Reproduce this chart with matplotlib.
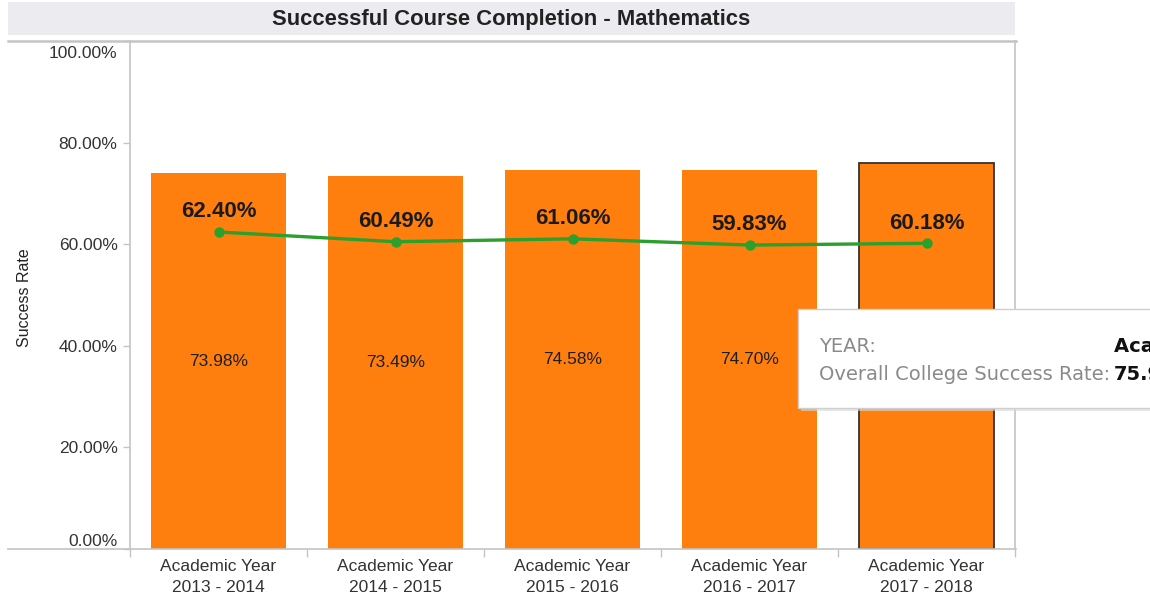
import matplotlib
matplotlib.use("Agg")
import matplotlib.pyplot as plt
from matplotlib.patches import Rectangle
from matplotlib.lines import Line2D
from matplotlib.transforms import ScaledTranslation
import numpy as np

# ---- data ----
years = ["Academic Year\n2013 - 2014", "Academic Year\n2014 - 2015", "Academic Year\n2015 - 2016",
         "Academic Year\n2016 - 2017", "Academic Year\n2017 - 2018"]
college_rate = [73.98, 73.49, 74.58, 74.70, 75.96]   # bars: Overall College Success Rate
math_rate = [62.40, 60.49, 61.06, 59.83, 60.18]       # line: Mathematics success rate
y_ticks = [0, 20, 40, 60, 80, 100]
y_tick_labels = ["0.00%", "20.00%", "40.00%", "60.00%", "80.00%", "100.00%"]
title = "Successful Course Completion - Mathematics"
tooltip_keys = ["YEAR:", "Overall College Success Rate:"]
tooltip_vals = ["Academic Year 2017 - 2018", "75.96%"]

plt.rcParams['font.family'] = ['Liberation Sans', 'DejaVu Sans']

W, H = 1150, 602
fig = plt.figure(figsize=(W / 100, H / 100), dpi=100)

def fx(px):
    return px / W

def fy(py):
    return 1 - py / H

ax = fig.add_axes([fx(130), fy(549), fx(1015) - fx(130), fy(41) - fy(549)])

x = np.arange(len(years))
edgecolors = ['none'] * (len(years) - 1) + ['#333333']
linewidths = [0] * (len(years) - 1) + [1.3]
ax.bar(x, college_rate, width=0.76, color='#ff7f0e', edgecolor=edgecolors, linewidth=linewidths, zorder=2)

for i, v in enumerate(college_rate):
    ax.text(i, v / 2, f"{v:.2f}%", ha='center', va='center', fontsize=12.5, color='#1e1e1e', zorder=3)

ax.plot(x, math_rate, color='#2ca02c', lw=2.4, marker='o', ms=6.5, zorder=4)
for i, v in enumerate(math_rate):
    ax.annotate(f"{v:.2f}%", (i, v), xytext=(0, 14.5), textcoords='offset points',
                ha='center', va='center', fontsize=16, fontweight='bold', color='#1a1a1a', zorder=5)

ax.set_xlim(-0.5, len(years) - 0.5)
ax.set_ylim(0, 100)

for s in ['top', 'bottom']:
    ax.spines[s].set_visible(False)
for s in ['left', 'right']:
    ax.spines[s].set_color('#c4c4c4')
    ax.spines[s].set_linewidth(1.2)

ax.set_yticks(y_ticks)
ax.set_yticklabels(y_tick_labels)
ax.tick_params(axis='y', length=5, width=1, color='#c4c4c4', labelsize=12.5, pad=4, labelcolor='#333333')
ylabs = ax.get_yticklabels()
ylabs[0].set_va('bottom')
ylabs[-1].set_va('top')
ylabs[-1].set_transform(ylabs[-1].get_transform() + ScaledTranslation(0, -0.05, fig.dpi_scale_trans))

ax.set_xticks(np.arange(-0.5, len(years), 1))
ax.set_xticklabels([''] * (len(years) + 1))
ax.tick_params(axis='x', which='major', length=6, width=1, color='#c4c4c4')
ax.set_xticks(x, minor=True)
ax.set_xticklabels(years, minor=True)
ax.tick_params(axis='x', which='minor', length=0, pad=7, labelsize=12.5, labelcolor='#333333')
for lbl in ax.get_xticklabels(minor=True):
    lbl.set_linespacing(1.55)

# frame lines (top and bottom full-width)
fig.add_artist(Line2D([fx(8), fx(1016)], [fy(41), fy(41)], color='#c4c4c4', lw=1.8, transform=fig.transFigure))
fig.add_artist(Line2D([fx(8), fx(1016)], [fy(549), fy(549)], color='#c4c4c4', lw=1.2, transform=fig.transFigure))

# title band
fig.add_artist(Rectangle((fx(8), fy(35)), fx(1015) - fx(8), fy(2) - fy(35), transform=fig.transFigure,
                         facecolor='#ececf0', edgecolor='none'))
fig.text(fx(511.5), fy(19), title, ha='center', va='center', fontsize=15.8, fontweight='bold', color='#222222')

fig.text(fx(25), fy(298), "Success Rate", rotation=90, ha='center', va='center', fontsize=11.5, color='#222222')

# tooltip
fig.add_artist(Rectangle((fx(801), fy(411)), fx(1170) - fx(801), fy(311) - fy(411), transform=fig.transFigure,
                         facecolor='#d8d8d8', edgecolor='none', alpha=0.6, zorder=9))
fig.add_artist(Rectangle((fx(798), fy(408)), fx(1170) - fx(798), fy(309) - fy(408), transform=fig.transFigure,
                         facecolor='white', edgecolor='#cfcfcf', lw=1, zorder=10))
for j, (k, v) in enumerate(zip(tooltip_keys, tooltip_vals)):
    yy = fy(347 + j * 27)
    fig.text(fx(819), yy, k, ha='left', va='center', fontsize=14, color='#8a8a8a',
             family='DejaVu Sans', zorder=11)
    fig.text(fx(1114), yy, v, ha='left', va='center', fontsize=14, color='#111111',
             family='DejaVu Sans', fontweight='bold', zorder=11)

fig.savefig("out.png", dpi=100)
